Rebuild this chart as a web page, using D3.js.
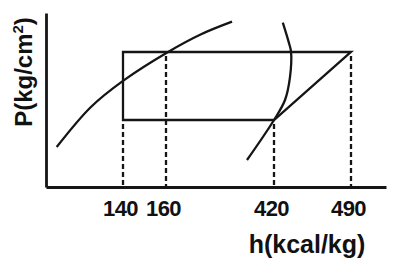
<!DOCTYPE html>
<html>
<head>
<meta charset="utf-8">
<title>P-h diagram</title>
<style>
  body {margin: 0; background: white;}
  svg {display: block;}
  .curve {fill: none; stroke: #151515; stroke-width: 2.3;}
  .drop {stroke: #151515; stroke-width: 2.3; stroke-dasharray: 5,3;}
  .lbl {font-family: "Liberation Sans", Arial, sans-serif; font-weight: bold; fill: #111;}
</style>
</head>
<body>
<svg id="svg" width="397" height="268"></svg>
<script src="https://d3js.org/d3.v7.min.js"></script>
<script>
// tick values on the h axis (kcal/kg)
var hTicks = [140, 160, 420, 490];
// pressure levels (schematic, no numbers on the axis)
var pHigh = 7.76, pLow = 3.85;

// cycle corners
var cycleH = [140, 490, 420, 140];
var cycleP = [pHigh, pHigh, pLow, pLow];

// dashed drop lines: from which pressure each tick is dropped
var dropH = [140, 160, 420, 490];
var dropP = [pLow, pHigh, pLow, pHigh];

// saturated liquid line
var liqH = [109, 125, 140, 165, 242, 319];
var liqP = [2.3, 4.6, 6.1, 7.76, 8.75, 9.5];

// saturated vapour line
var vapH = [428, 433.5, 435.5, 434.5, 430, 420, 355];
var vapP = [9.45, 8.3, 7.76, 6.3, 5.0, 3.85, 1.55];

var svg = d3.select("#svg");

// the drawing is schematic, so the h axis is piecewise linear
var x = d3.scaleLinear()
          .domain([104, 140, 160, 420, 490, 522])
          .range([46, 123, 166, 274, 351, 386]);
var y = d3.scaleLinear()
          .domain([0, 10])
          .range([187, 13]);

var zip = function(a, b){ return a.map(function(d, i){ return [d, b[i]]; }); };

// axes
var xAxis = svg.append("g")
   .attr("transform", "translate(0,187)")
   .call(d3.axisBottom(x).tickValues(hTicks).tickSize(0).tickSizeOuter(0).tickPadding(13));
xAxis.select(".domain").attr("stroke", "#151515").attr("stroke-width", 2.8);
xAxis.selectAll("text")
   .attr("class", "lbl")
   .attr("font-size", 22)
   .attr("letter-spacing", -0.5)
   .attr("dx", -3)
   .attr("fill", "#111");

var yAxis = svg.append("g")
   .attr("transform", "translate(46,0)")
   .call(d3.axisLeft(y).tickValues([]).tickSizeOuter(0));
yAxis.select(".domain").attr("stroke", "#151515").attr("stroke-width", 2.8);

// dashed drops
svg.selectAll("line.drop")
   .data(zip(dropH, dropP))
   .enter().append("line")
   .attr("class", "drop")
   .attr("x1", function(d){ return x(d[0]); })
   .attr("x2", function(d){ return x(d[0]); })
   .attr("y1", function(d){ return y(d[1]) + 4; })
   .attr("y2", y(0));

var line = d3.line()
   .x(function(d){ return x(d[0]); })
   .y(function(d){ return y(d[1]); });

// cycle
svg.append("path")
   .attr("class", "curve")
   .attr("d", line(zip(cycleH, cycleP)) + "Z");

// saturation curves
var smooth = d3.line()
   .x(function(d){ return x(d[0]); })
   .y(function(d){ return y(d[1]); })
   .curve(d3.curveCatmullRom);

svg.append("path").attr("class", "curve").attr("d", smooth(zip(liqH, liqP)));
svg.append("path").attr("class", "curve").attr("d", smooth(zip(vapH, vapP)));

// axis titles
svg.append("text")
   .attr("class", "lbl")
   .attr("font-size", 25)
   .attr("text-anchor", "middle")
   .attr("x", 307)
   .attr("y", 253)
   .text("h(kcal/kg)");

var yt = svg.append("text")
   .attr("class", "lbl")
   .attr("font-size", 24)
   .attr("text-anchor", "middle")
   .attr("transform", "translate(32,72) rotate(-90)");
yt.append("tspan").text("P(kg/cm");
yt.append("tspan").attr("font-size", 15).attr("dy", -9).text("2");
yt.append("tspan").attr("dy", 9).text(")");
</script>
</body>
</html>
